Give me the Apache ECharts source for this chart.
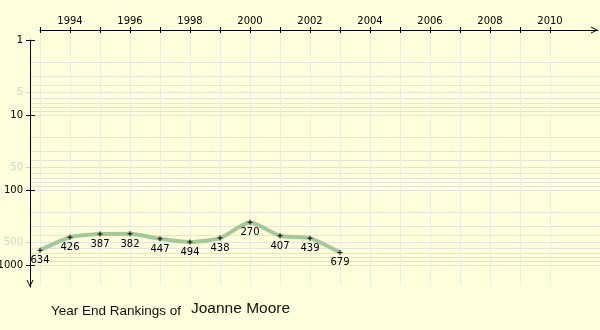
<!DOCTYPE html>
<html>
<head>
<meta charset="utf-8">
<script src="https://cdn.jsdelivr.net/npm/echarts@6/dist/echarts.min.js"></script>
<style>
  html, body { margin: 0; padding: 0; background: #ffffdc; }
  #chart { width: 600px; height: 330px; }
</style>
</head>
<body>
<div id="chart"></div>
<script>
// Year-end ranking history
const years = [1993, 1994, 1995, 1996, 1997, 1998, 1999, 2000, 2001, 2002, 2003];
const ranks = [634, 426, 387, 382, 447, 494, 438, 270, 407, 439, 679];

// Axis ticks and labels
const yearTicks = [1993, 1994, 1995, 1996, 1997, 1998, 1999, 2000, 2001, 2002,
                   2003, 2004, 2005, 2006, 2007, 2008, 2009, 2010];
const yearLabels = [1994, 1996, 1998, 2000, 2002, 2004, 2006, 2008, 2010];
const rankMajor = [1, 10, 100, 1000];
const rankMid = [5, 50, 500];
const rankGrid = [2, 3, 4, 5, 6, 7, 8, 9, 10,
                  20, 30, 40, 50, 60, 70, 80, 90, 100,
                  200, 300, 400, 500, 600, 700, 800, 900, 1000];

const playerName = 'Joanne Moore';

// Pixel layout: one year = 30px, one decade of rank = 75px
const PX_YEAR = 30, PX_DECADE = 75;
const plotLeft = 30, plotTop = 30, plotBottomY = 285;
const yearAt40 = 1993;           // first year sits at x = 40
const rankAt40 = 1;              // rank 1 sits at y = 40

const chart = echarts.init(document.getElementById('chart'), null, { renderer: 'canvas' });

const monoFont = 'DejaVu Sans';
const chevron = 'path://M0,10 L5,0 L10,10 L8.6,10 L5,2.8 L1.4,10 Z';
const plus = 'path://M2,0 H3 V2 H5 V3 H3 V5 H2 V3 H0 V2 H2 Z';

// plot area: gridlines + data
const g0xMin = yearAt40 - (40 - plotLeft) / PX_YEAR;
const g0xMax = yearAt40 + (600 - 40) / PX_YEAR;
const g0yMin = Math.pow(10, -(40 - plotTop) / PX_DECADE);
const g0yMax = Math.pow(10, (plotBottomY - 40) / PX_DECADE);

// top year axis, from x = 40 to the arrow tip
const axisEndX = 598;
const gxMax = yearAt40 + (axisEndX - 40) / PX_YEAR;
const xAxisRect = () => ({ left: 40, top: 30, right: 600 - axisEndX, bottom: 45,
                           outerBoundsMode: 'none' });

// left rank axis, from y = 40 to the arrow tip
const axisEndY = 287;
const gyMax = Math.pow(10, (axisEndY - 40) / PX_DECADE);
const yAxisRect = () => ({ left: 30, top: 40, right: 0, bottom: 330 - axisEndY,
                           outerBoundsMode: 'none' });

const rankFmt = v => String(Math.round(v));
const noLine = () => ({ show: false, onZero: false });
const hidden = () => ({ show: false });
const blackLine = () => ({ color: '#000', width: 1 });
const hiddenValue = gi => ({ gridIndex: gi, type: 'value', show: false, min: 0, max: 1,
                             axisLine: noLine() });

// a top year axis in its own grid
const yearAxis = (gi, extra) => Object.assign({
  gridIndex: gi, type: 'value', position: 'top', min: yearAt40, max: gxMax,
  axisLine: noLine(), axisLabel: hidden(), splitLine: hidden()
}, extra);

// a left rank axis in its own grid
const rankAxis = (gi, extra) => Object.assign({
  gridIndex: gi, type: 'log', inverse: true, position: 'left', min: rankAt40, max: gyMax,
  axisLine: noLine(), axisLabel: hidden(), splitLine: hidden()
}, extra);

const option = {
  backgroundColor: '#ffffdc',
  animation: false,
  grid: [
    { left: plotLeft, top: plotTop, right: 0, bottom: 330 - plotBottomY,
      outerBoundsMode: 'none' },                                           // 0 plot
    xAxisRect(),                                                           // 1 year line + inner ticks
    xAxisRect(),                                                           // 2 year outer ticks
    yAxisRect(),                                                           // 3 rank line + outer ticks
    yAxisRect(),                                                           // 4 rank inner ticks
    yAxisRect()                                                            // 5 grey mid ticks
  ],
  xAxis: [
    {
      gridIndex: 0, type: 'value', min: g0xMin, max: g0xMax,
      axisLine: noLine(), axisLabel: hidden(),
      axisTick: { show: false, customValues: yearTicks },
      splitLine: { show: true, lineStyle: { color: '#ebebe2', width: 1 } }
    },
    yearAxis(1, {
      axisLine: {
        show: true, onZero: false, lineStyle: blackLine(),
        symbol: ['none', chevron], symbolSize: [8, 7], symbolOffset: [0, -3.5]
      },
      axisTick: { show: true, inside: true, length: 3, customValues: yearTicks, lineStyle: blackLine() },
      axisLabel: { show: true, customValues: yearLabels, margin: 4,
                   color: '#000', fontFamily: monoFont, fontSize: 10,
                   formatter: v => String(Math.round(v)) }
    }),
    yearAxis(2, {
      axisTick: { show: true, inside: false, length: 3, customValues: yearTicks, lineStyle: blackLine() }
    }),
    hiddenValue(3), hiddenValue(4), hiddenValue(5)
  ],
  yAxis: [
    {
      gridIndex: 0, type: 'log', inverse: true, min: g0yMin, max: g0yMax,
      axisLine: noLine(), axisLabel: hidden(),
      axisTick: { show: false, customValues: rankGrid },
      splitLine: { show: true, lineStyle: { color: '#e3e3d8', width: 1 } }
    },
    hiddenValue(1), hiddenValue(2),
    rankAxis(3, {
      axisLine: {
        show: true, onZero: false, lineStyle: blackLine(),
        symbol: [chevron, 'none'], symbolSize: [8, 7], symbolOffset: [3.5, 0]
      },
      axisTick: { show: true, inside: false, length: 4, customValues: rankMajor, lineStyle: blackLine() },
      axisLabel: { show: true, customValues: rankMajor, margin: 7,
                   color: '#000', fontFamily: monoFont, fontSize: 10, formatter: rankFmt }
    }),
    rankAxis(4, {
      axisTick: { show: true, inside: true, length: 5, customValues: rankMajor, lineStyle: blackLine() }
    }),
    rankAxis(5, {
      axisTick: { show: true, inside: false, length: 4, customValues: rankMid,
                  lineStyle: { color: '#d2d2c6', width: 1 } },
      axisLabel: { show: true, customValues: rankMid, margin: 7,
                   color: '#d2d2c6', fontFamily: monoFont, fontSize: 10, formatter: rankFmt }
    })
  ],
  series: [
    {
      type: 'line',
      xAxisIndex: 0, yAxisIndex: 0,
      data: years.map((y, i) => [y, ranks[i]]),
      smooth: 0.2,
      clip: false,
      lineStyle: { color: '#a0ca97', width: 4 },
      symbol: plus, symbolSize: 5,
      itemStyle: { color: '#000' },
      label: {
        show: true, position: 'bottom', distance: 3,
        color: '#000', fontFamily: monoFont, fontSize: 10,
        formatter: p => String(p.value[1])
      },
      z: 5
    }
  ],
  graphic: [
    {
      type: 'text', left: 51, top: 304,
      style: { text: 'Year End Rankings of', fill: '#111',
               font: '13.5px "Liberation Sans", Arial, sans-serif' }
    },
    {
      type: 'text', left: 191, top: 301,
      style: { text: playerName, fill: '#111',
               font: '15.5px "Liberation Sans", Arial, sans-serif' }
    }
  ]
};

chart.setOption(option);
</script>
</body>
</html>
